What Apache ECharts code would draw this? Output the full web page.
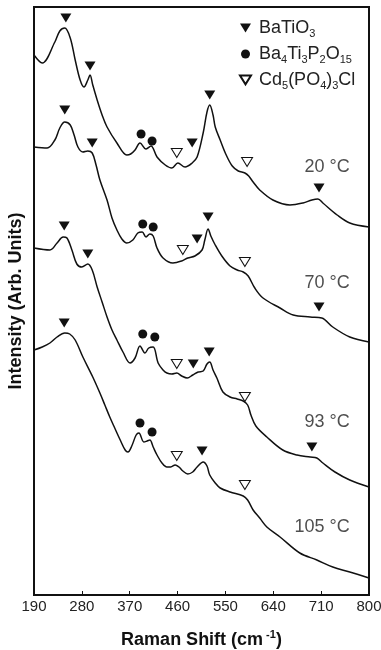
<!DOCTYPE html>
<html>
<head>
<meta charset="utf-8">
<script src="https://cdn.jsdelivr.net/npm/echarts@6/dist/echarts.min.js"></script>
<style>
  html, body { margin: 0; padding: 0; background: #fff; }
  #chart { width: 381px; height: 650px; }
</style>
</head>
<body>
<div id="chart"></div>
<script type="text/javascript">
// x tick labels as printed on the figure (7 equal steps from 190 to 800)
var tickLabels = ['190', '280', '370', '460', '550', '640', '710', '800'];

// spectra: [Raman shift (cm-1), intensity (arb. units, offset per curve)]
var curve20 = [[190,540],[205,532],[228,553],[237,564],[246,567],[256,557],[265,535],[274,515],[281,508],[288,515],[292,520],[297,510],[305,495],[314,480],[323,468],[341,452],[359,440],[366,441],[374,445],[383,452],[394,446],[403,449],[414,438],[429,430],[441,427],[452,432],[465,428],[478,432],[487,438],[498,462],[505,483],[510,490],[516,480],[520,468],[529,455],[540,440],[551,429],[562,424],[574,422],[581,419],[589,413],[601,405],[625,395],[656,390],[680,392],[696,395],[707,396],[716,392],[742,380],[765,372],[800,368]];
var curve70 = [[190,448],[214,447],[228,455],[237,467],[246,473],[256,470],[263,460],[270,448],[279,443],[288,444],[296,442],[303,430],[310,415],[323,395],[332,377],[341,365],[350,356],[359,352],[370,355],[379,362],[387,363],[394,358],[401,361],[407,359],[414,347],[425,337],[443,332],[459,334],[470,337],[483,339],[496,345],[501,355],[507,366],[512,359],[520,350],[532,339],[547,329],[560,325],[571,323],[580,319],[592,307],[607,297],[638,287],[662,280],[693,278],[714,277],[734,268],[765,258],[800,253]];
var curve93 = [[190,347],[219,345],[232,352],[243,358],[250,357],[259,345],[268,331],[277,328],[288,331],[296,325],[305,308],[314,293],[323,278],[332,265],[341,255],[352,243],[365,232],[374,237],[383,249],[392,242],[399,247],[407,248],[416,232],[425,225],[432,222],[441,221],[450,222],[459,219],[469,217],[479,220],[489,223],[498,224],[505,231],[510,233],[516,225],[523,217],[534,203],[547,198],[560,196],[571,194],[579,190],[585,180],[594,169],[614,158],[643,145],[669,140],[693,138],[705,137],[716,132],[738,123],[765,115],[800,108]];
var curve105 = [[190,245],[205,248],[219,252],[232,258],[246,262],[255,261],[265,255],[279,238],[297,218],[310,202],[319,190],[328,178],[337,167],[347,155],[356,145],[361,143],[368,149],[376,160],[381,162],[390,153],[396,154],[401,155],[407,148],[414,140],[423,132],[432,128],[439,128],[447,130],[454,128],[461,124],[470,121],[479,123],[487,128],[498,133],[505,129],[510,120],[520,112],[529,107],[547,103],[571,99],[579,95],[589,85],[601,77],[614,68],[638,58],[674,42],[705,35],[734,28],[765,23],[800,17]];

// phase markers
var batioMarks = [[248,577],[292,529],[478,452],[510,500],[709,407],
                  [246,485],[296,452],[487,356],[507,378],[709,288],
                  [245,369],[288,341],[480,231],[509,243],[696,148],
                  [245,272],[496,144]];
var ba4Marks = [[385,461],[405,454],[388,371],[407,368],[388,261],[410,258],[383,172],[405,163]];
var cdMarks = [[450,442],[578,433],[461,345],[574,333],[450,231],[574,198],[450,139],[574,110]];

var tempNames = ['20 °C', '70 °C', '93 °C', '105 °C'];
var tempPos = [[765,428],[765,312],[765,173],[765,68]];

var myChart = echarts.init(document.getElementById('chart'));
var step = 610 / 7;
var downTri = 'path://M0,0L10,0L5,8Z';
var ink = '#111';

function lineSeries(data) {
    return {
        type: 'line',
        data: data,
        smooth: 0.35,
        showSymbol: false,
        silent: true,
        lineStyle: { color: ink, width: 1.5 }
    };
}

var option = {
    backgroundColor: '#fff',
    animation: false,
    grid: {
        left: 34, right: 12, top: 7, bottom: 55,
        show: true, borderColor: ink, borderWidth: 2,
        containLabel: false, outerBoundsMode: 'none'
    },
    legend: {
        orient: 'vertical',
        left: 234, top: 14,
        itemWidth: 11, itemHeight: 9, itemGap: 6,
        selectedMode: false,
        data: ['BaTiO3', 'Ba4Ti3P2O15', 'Cd5(PO4)3Cl'],
        formatter: function (name) {
            if (name == 'BaTiO3') return '{m|BaTiO}{s|3}';
            if (name == 'Ba4Ti3P2O15') return '{m|Ba}{s|4}{m|Ti}{s|3}{m|P}{s|2}{m|O}{s|15}';
            return '{m|Cd}{s|5}{m|(PO}{s|4}{m|)}{s|3}{m|Cl}';
        },
        textStyle: {
            padding: [0, 0, 0, 3],
            rich: {
                m: { fontSize: 18, lineHeight: 22, color: '#222', fontFamily: 'Liberation Sans' },
                s: { fontSize: 11, lineHeight: 22, verticalAlign: 'bottom', color: '#222', fontFamily: 'Liberation Sans' }
            }
        }
    },
    xAxis: {
        type: 'value',
        min: 190, max: 800, interval: step,
        name: 'Raman Shift (cm{sup|-1})',
        nameLocation: 'middle',
        nameGap: 34,
        nameTextStyle: {
            fontSize: 18, fontWeight: 'bold', color: '#111', fontFamily: 'Liberation Sans',
            rich: {
                sup: { fontSize: 11, fontWeight: 'bold', verticalAlign: 'top', lineHeight: 22, color: '#111', padding: [0, 0, 0, 3] }
            }
        },
        axisLine: { lineStyle: { color: ink, width: 2 } },
        axisTick: { inside: true, length: 4, lineStyle: { color: ink } },
        axisLabel: {
            margin: 4, fontSize: 15, color: '#222', fontFamily: 'Liberation Sans',
            formatter: function (v) { return tickLabels[Math.round((v - 190) / step)]; }
        },
        splitLine: { show: false }
    },
    yAxis: {
        type: 'value',
        min: 0, max: 588,
        name: 'Intensity (Arb. Units)',
        nameLocation: 'middle',
        nameGap: 9,
        nameTextStyle: { fontSize: 18, fontWeight: 'bold', color: '#111', fontFamily: 'Liberation Sans' },
        axisLine: { show: false },
        axisTick: { show: false },
        axisLabel: { show: false },
        splitLine: { show: false }
    },
    series: [
        lineSeries(curve20),
        lineSeries(curve70),
        lineSeries(curve93),
        lineSeries(curve105),
        {
            name: 'BaTiO3', type: 'scatter', data: batioMarks,
            symbol: downTri, symbolSize: [11, 9],
            itemStyle: { color: ink, opacity: 1 }
        },
        {
            name: 'Ba4Ti3P2O15', type: 'scatter', data: ba4Marks,
            symbol: 'circle', symbolSize: 9,
            itemStyle: { color: ink, opacity: 1 }
        },
        {
            name: 'Cd5(PO4)3Cl', type: 'scatter', data: cdMarks,
            symbol: downTri, symbolSize: [11, 9],
            itemStyle: { color: '#fff', borderColor: ink, borderWidth: 1, opacity: 1 }
        },
        {
            type: 'scatter', silent: true,
            symbolSize: 0,
            data: tempPos.map(function (p, i) { return { value: p, name: tempNames[i] }; }),
            label: {
                show: true, position: 'inside', align: 'right', verticalAlign: 'middle',
                formatter: '{b}', fontSize: 18, color: '#222', fontFamily: 'Liberation Sans'
            }
        }
    ]
};
myChart.setOption(option);
</script>
</body>
</html>
